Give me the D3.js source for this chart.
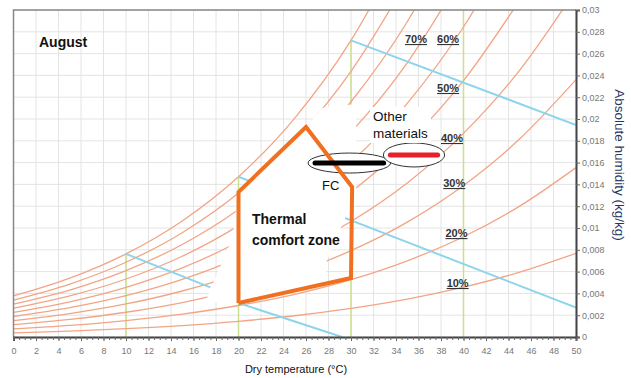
<!DOCTYPE html>
<html>
<head>
<meta charset="utf-8">
<script src="https://cdn.jsdelivr.net/npm/d3@7/dist/d3.min.js"></script>
<style>
  body { margin: 0; background: #fff; }
  text { font-family: "Liberation Sans", Arial, sans-serif; }
</style>
</head>
<body>
<div id="viz"></div>
<script>
// dry temperature steps (°C) for the humidity curves
var temps = [0, 5, 10, 15, 20, 25, 30, 35, 40, 45, 50];

// relative humidity curves, absolute humidity (kg/kg) at each temp step
var rhLevels = [100, 90, 80, 70, 60, 50, 40, 30, 20, 10];
var rhValues = [
  [0.00377, 0.00540, 0.00763, 0.01065, 0.01470, 0.02008, 0.02721, 0.03658],
  [0.00339, 0.00486, 0.00686, 0.00957, 0.01320, 0.01802, 0.02438, 0.03273],
  [0.00302, 0.00431, 0.00609, 0.00849, 0.01170, 0.01596, 0.02158, 0.02892, 0.03851],
  [0.00264, 0.00377, 0.00532, 0.00741, 0.01022, 0.01392, 0.01880, 0.02516, 0.03344],
  [0.00226, 0.00323, 0.00456, 0.00634, 0.00874, 0.01190, 0.01604, 0.02144, 0.02844, 0.03746],
  [0.00188, 0.00269, 0.00379, 0.00528, 0.00726, 0.00988, 0.01331, 0.01777, 0.02352, 0.03091],
  [0.00150, 0.00215, 0.00303, 0.00422, 0.00580, 0.00788, 0.01060, 0.01413, 0.01868, 0.02448, 0.03188],
  [0.00113, 0.00161, 0.00227, 0.00316, 0.00434, 0.00589, 0.00792, 0.01054, 0.01390, 0.01818, 0.02361],
  [0.00075, 0.00107, 0.00151, 0.00210, 0.00289, 0.00392, 0.00526, 0.00699, 0.00920, 0.01201, 0.01554],
  [0.00038, 0.00054, 0.00076, 0.00105, 0.00144, 0.00195, 0.00262, 0.00347, 0.00457, 0.00595, 0.00768]
];

// rh curve labels (text, temp, humidity)
var rhLabels = ["70%", "60%", "50%", "40%", "30%", "20%", "10%"];
var rhLabelT = [34.8, 37.65, 37.65, 38.0, 38.2, 38.4, 38.5];
var rhLabelW = [0.02697, 0.02697, 0.02248, 0.01789, 0.01376, 0.00917, 0.00459];

// constant enthalpy lines (start/end temp and humidity), split where hidden
var hLineT = [[10, 17.5], [20, 29.2], [20, 50], [30, 50]];
var hLineW = [[0.00763, 0.00455], [0.00312, 0.0], [0.01470, 0.00270], [0.02721, 0.01945]];

// vertical temperature guides, up to saturation
var guideT = [10, 20, 30, 40];
var guideTop = [0.00763, 0.01470, 0.02721, 0.03];

// thermal comfort zone
var zoneT = [20, 20, 26.0, 30.1, 30, 20];
var zoneW = [0.00312, 0.0133, 0.01927, 0.01376, 0.00541, 0.00312];

// white patch of the pasted comfort zone image
var patchT = [17.05, 19.45, 20, 26.0, 27.44, 30.46, 30.46, 27.8, 27.8, 20];
var patchW = [0.00321, 0.00908, 0.0133, 0.01927, 0.0210, 0.02138, 0.0133, 0.00688, 0.00486, 0.00312];

// material bars: FC and other materials
var barNames = ["FC", "Other"];
var barT = [[26.8, 32.9], [33.5, 37.7]];
var barW = [0.01596, 0.0167];
var barColors = ["#000", "#e8202a"];

var xTicks = d3.range(0, 51, 2);
var yTicks = d3.range(0, 0.0301, 0.002);

var width = 631, height = 378;
var x = d3.scaleLinear().domain([0, 50]).range([13.5, 576]);
var y = d3.scaleLinear().domain([0, 0.03]).range([337, 10]);

var svg = d3.select("#viz").append("svg")
  .attr("width", width)
  .attr("height", height);

svg.append("defs").append("clipPath").attr("id", "plot")
  .append("rect")
  .attr("x", x(0)).attr("y", y(0.03))
  .attr("width", x(50) - x(0)).attr("height", y(0) - y(0.03));

// grid
svg.append("g").selectAll("line")
  .data(xTicks)
  .join("line")
  .attr("x1", d => x(d)).attr("x2", d => x(d))
  .attr("y1", y(0)).attr("y2", y(0.03))
  .attr("stroke", "#e4e4e4").attr("stroke-width", 1);
svg.append("g").selectAll("line")
  .data(yTicks)
  .join("line")
  .attr("x1", x(0)).attr("x2", x(50))
  .attr("y1", d => y(d)).attr("y2", d => y(d))
  .attr("stroke", "#e4e4e4").attr("stroke-width", 1);

var plot = svg.append("g").attr("clip-path", "url(#plot)");

// vertical guides
plot.selectAll(".guide")
  .data(guideT)
  .join("line")
  .attr("x1", d => x(d)).attr("x2", d => x(d))
  .attr("y1", y(0)).attr("y2", (d, i) => y(guideTop[i]))
  .attr("stroke", "#cbe08c").attr("stroke-width", 1.5);

// rh curves
var line = d3.line()
  .x((d, i) => x(temps[i]))
  .y(d => y(d))
  .curve(d3.curveMonotoneX);

plot.selectAll(".rh")
  .data(rhValues)
  .join("path")
  .attr("d", d => line(d))
  .attr("fill", "none")
  .attr("stroke", "#f2a585")
  .attr("stroke-width", 1.3);

// enthalpy lines
plot.selectAll(".h")
  .data(hLineT)
  .join("line")
  .attr("x1", d => x(d[0])).attr("x2", d => x(d[1]))
  .attr("y1", (d, i) => y(hLineW[i][0])).attr("y2", (d, i) => y(hLineW[i][1]))
  .attr("stroke", "#8dd5ec").attr("stroke-width", 2);

// white patch
plot.append("path")
  .attr("d", d3.line().x(d => x(d)).y((d, i) => y(patchW[i]))(patchT) + "Z")
  .attr("fill", "#fff");

// ellipses round the bars
svg.append("g").selectAll("ellipse")
  .data(barT)
  .join("ellipse")
  .attr("cx", d => (x(d[0]) + x(d[1])) / 2)
  .attr("cy", (d, i) => y(barW[i]))
  .attr("rx", d => (x(d[1]) - x(d[0])) / 2 + 7)
  .attr("ry", (d, i) => i == 0 ? 10 : 12)
  .attr("fill", "#fff")
  .attr("stroke", "#333")
  .attr("stroke-width", 1);

// comfort zone
svg.append("path")
  .attr("d", d3.line().x(d => x(d)).y((d, i) => y(zoneW[i]))(zoneT))
  .attr("fill", "none")
  .attr("stroke", "#f07020")
  .attr("stroke-width", 4)
  .attr("stroke-linejoin", "miter");

// bars
svg.append("g").selectAll("line")
  .data(barT)
  .join("line")
  .attr("x1", d => x(d[0])).attr("x2", d => x(d[1]))
  .attr("y1", (d, i) => y(barW[i])).attr("y2", (d, i) => y(barW[i]))
  .attr("stroke", (d, i) => barColors[i])
  .attr("stroke-width", 5)
  .attr("stroke-linecap", "round");

// rh labels
svg.append("g").selectAll("text")
  .data(rhLabels)
  .join("text")
  .attr("x", (d, i) => x(rhLabelT[i]))
  .attr("y", (d, i) => y(rhLabelW[i]))
  .attr("font-family", "'Liberation Serif', 'Times New Roman', serif")
  .attr("font-weight", "bold")
  .attr("font-size", 11)
  .attr("fill", "#333")
  .attr("text-decoration", "underline")
  .text(d => d);

// frame
svg.append("path")
  .attr("d", "M" + x(0) + "," + y(0) + "V" + y(0.03) + "H" + x(50))
  .attr("fill", "none").attr("stroke", "#888").attr("stroke-width", 1.5);

// bottom axis
svg.append("g")
  .attr("transform", "translate(0," + y(0) + ")")
  .call(d3.axisBottom(x).tickValues(xTicks).tickSize(4).tickPadding(7));
var xMinor = svg.append("g")
  .attr("transform", "translate(0," + y(0) + ")")
  .call(d3.axisBottom(x).tickValues(d3.range(0, 50.01, 0.5)).tickSize(3).tickFormat(""));
xMinor.select(".domain").remove();

svg.append("g")
  .attr("transform", "translate(" + x(50) + ",0)")
  .call(d3.axisRight(y).tickValues(yTicks).tickSize(4).tickPadding(2)
    .tickFormat(d => String(+d.toFixed(3)).replace(".", ",")));

svg.selectAll(".domain").attr("stroke", "#444").attr("stroke-width", 2);
svg.selectAll(".tick line").attr("stroke", "#666");
svg.selectAll(".tick text")
  .attr("fill", "#777")
  .attr("font-size", 9)
  .attr("font-family", "'Liberation Sans', Arial, sans-serif");

// texts
svg.append("text")
  .attr("x", 39).attr("y", 47)
  .attr("font-size", 14).attr("font-weight", "bold")
  .attr("fill", "#111")
  .text("August");

var comfort = svg.append("text")
  .attr("font-size", 14).attr("font-weight", "bold").attr("fill", "#111");
comfort.append("tspan").attr("x", 252).attr("y", 224).text("Thermal");
comfort.append("tspan").attr("x", 252).attr("y", 245).text("comfort zone");

svg.append("text")
  .attr("x", 322).attr("y", 190)
  .attr("font-size", 13).attr("fill", "#111")
  .text(barNames[0]);

// white box behind "Other materials"
var otherBox = svg.append("rect").attr("fill", "#fff");
var other = svg.append("text")
  .attr("font-size", 13.5).attr("fill", "#111");
other.append("tspan").attr("x", 373).attr("y", 121).text("Other");
other.append("tspan").attr("x", 373).attr("y", 138).text("materials");
var bb = other.node().getBBox();
otherBox.attr("x", bb.x - 3).attr("y", bb.y - 2)
  .attr("width", bb.width + 6).attr("height", bb.height + 4);

svg.append("text")
  .attr("x", 296).attr("y", 373)
  .attr("text-anchor", "middle")
  .attr("font-size", 11).attr("fill", "#111")
  .text("Dry temperature (°C)");

svg.append("text")
  .attr("transform", "translate(615,165) rotate(90)")
  .attr("text-anchor", "middle")
  .attr("font-size", 13.5).attr("fill", "#1f3864")
  .text("Absolute humidity (kg/kg)");
</script>
</body>
</html>
